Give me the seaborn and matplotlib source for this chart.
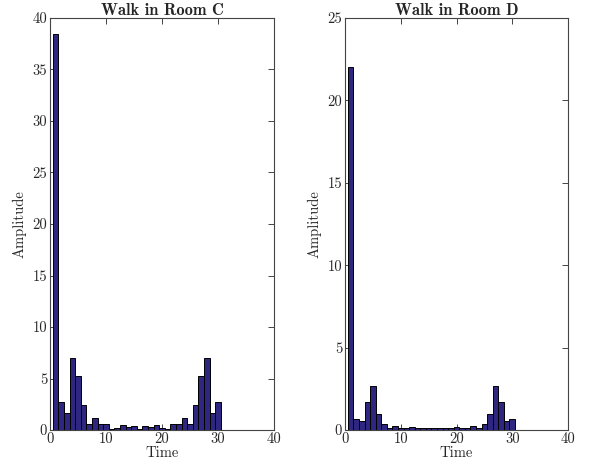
import numpy as np
import pandas as pd
import matplotlib
matplotlib.use("Agg")
import matplotlib.pyplot as plt
import seaborn as sns

time_bins = list(range(1, 31))
room_c = [38.4, 2.75, 1.65, 6.95, 5.25, 2.4, 0.58, 1.2, 0.58, 0.6,
          0.1, 0.2, 0.5, 0.3, 0.4, 0.05, 0.4, 0.3, 0.5, 0.2,
          0.1, 0.6, 0.58, 1.2, 0.58, 2.4, 5.25, 6.95, 1.65, 2.75]
room_d = [22.0, 0.66, 0.56, 1.7, 2.65, 1.0, 0.35, 0.12, 0.22, 0.14,
          0.12, 0.16, 0.12, 0.14, 0.1, 0.1, 0.1, 0.14, 0.12, 0.16,
          0.12, 0.14, 0.22, 0.12, 0.35, 1.0, 2.65, 1.7, 0.56, 0.66]
titles = ["Walk in Room C", "Walk in Room D"]
x_ticks = [0, 10, 20, 30, 40]
y_tops = [40, 25]

sns.set_theme(style="white")
plt.rcParams["font.family"] = ["cmr10", "DejaVu Serif"]
plt.rcParams["axes.formatter.use_mathtext"] = True
plt.rcParams["mathtext.fontset"] = "cm"

fig = plt.figure(figsize=(5.9, 4.61), dpi=100)
ax1 = fig.add_axes([50/590, 1-430/461, 224/590, 412/461])
ax2 = fig.add_axes([345/590, 1-430/461, 223/590, 412/461])

bar_color = "#2f2682"
edge = "#444444"
for ax, vals, title, ytop in zip([ax1, ax2], [room_c, room_d], titles, y_tops):
    df = pd.DataFrame({"Time": time_bins, "Amplitude": vals})
    sns.barplot(data=df, x="Time", y="Amplitude", native_scale=True, width=1.0,
                color=bar_color, saturation=1, edgecolor="black", linewidth=0.7,
                ax=ax, errorbar=None)
    ax.set_xlim(0, 40)
    ax.set_ylim(0, ytop)
    ax.set_xticks(x_ticks)
    ax.set_xticklabels([str(t) for t in x_ticks])
    yt = list(range(0, ytop + 1, 5))
    ax.set_yticks(yt)
    ax.set_yticklabels([str(t) for t in yt])
    ax.tick_params(direction="in", length=4, width=0.7, color=edge,
                   top=True, right=True, labelsize=10.5, pad=2,
                   bottom=True, left=True)
    for s in ax.spines.values():
        s.set_visible(True)
        s.set_color(edge)
        s.set_linewidth(0.8)
    ax.set_title(title, fontfamily="cmb10", fontsize=11.8, pad=2)
    ax.set_xlabel("Time", fontsize=10.5, labelpad=0)
    ax.set_ylabel("Amplitude", fontsize=10.5, labelpad=4)
    ax.grid(False)

fig.savefig("out.png", dpi=100)
